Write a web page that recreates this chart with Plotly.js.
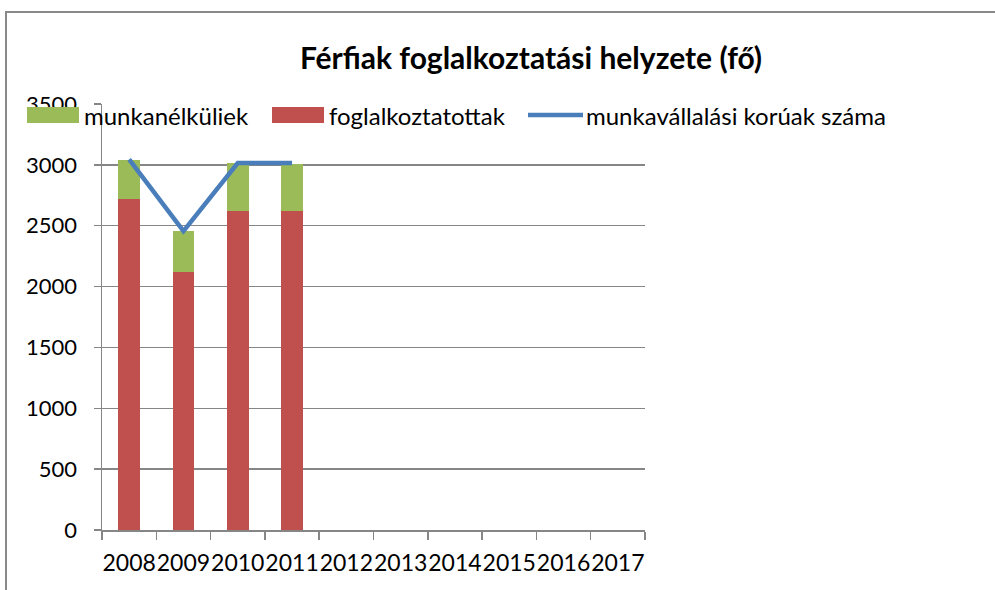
<!DOCTYPE html>
<html>
<head>
<meta charset="utf-8">
<script src="https://cdn.plot.ly/plotly-3.0.1.min.js"></script>
<style>
html,body{margin:0;padding:0;background:#fff;}
#chart{width:995px;height:590px;}
</style>
</head>
<body>
<div id="chart"></div>
<script>
var years = ['2008','2009','2010','2011','2012','2013','2014','2015','2016','2017'];
var foglalkoztatottak = [2720, 2120, 2620, 2625];
var munkanelkuliek = [320, 335, 395, 385];
var munkavallalasiKoruak = [3045, 2455, 3015, 3015];
var yTicks = [0, 500, 1000, 1500, 2000, 2500, 3000, 3500];

var FONT = 'Lato, "Open Sans", sans-serif';
var C_RED = '#c0504d', C_GREEN = '#9bbb59', C_BLUE = '#4a7ebb';

var traces = [
  {
    type: 'bar', name: 'foglalkoztatottak',
    x: years.slice(0, foglalkoztatottak.length), y: foglalkoztatottak,
    marker: {color: C_RED}, hoverinfo: 'y'
  },
  {
    type: 'bar', name: 'munkanélküliek',
    x: years.slice(0, munkanelkuliek.length), y: munkanelkuliek,
    marker: {color: C_GREEN}, hoverinfo: 'y'
  },
  {
    type: 'scatter', mode: 'lines', name: 'munkavállalási korúak száma',
    x: years.slice(0, munkavallalasiKoruak.length), y: munkavallalasiKoruak,
    line: {color: C_BLUE, width: 4.5}, hoverinfo: 'y'
  }
];

// pixel -> paper helpers (plot area: x 102..645, y 104..530)
var L = 102, R = 350, T = 104, B = 60, W = 995, H = 590;
var PW = W - L - R, PH = H - T - B;
function px(x) { return (x - L) / PW; }
function py(y) { return (H - B - y) / PH; }

var legY = 115;
var legendItems = [
  {name: traces[1].name, kind: 'rect', color: C_GREEN, x0: 27, x1: 79, tx: 83},
  {name: traces[0].name, kind: 'rect', color: C_RED, x0: 272, x1: 324, tx: 328},
  {name: traces[2].name, kind: 'line', color: C_BLUE, x0: 528, x1: 583, tx: 585}
];
var shapes = [{
  type: 'rect', xref: 'paper', yref: 'paper',
  x0: px(6), x1: px(1100), y0: py(700), y1: py(12),
  line: {color: '#898989', width: 2}, layer: 'below'
}];
var annotations = [];
legendItems.forEach(function (it) {
  if (it.kind === 'rect') {
    shapes.push({type: 'rect', xref: 'paper', yref: 'paper',
      x0: px(it.x0), x1: px(it.x1), y0: py(legY + 8), y1: py(legY - 8),
      fillcolor: it.color, line: {width: 0}});
  } else {
    shapes.push({type: 'line', xref: 'paper', yref: 'paper',
      x0: px(it.x0), x1: px(it.x1), y0: py(legY), y1: py(legY),
      line: {color: it.color, width: 4.5}});
  }
  annotations.push({xref: 'paper', yref: 'paper', x: px(it.tx), y: py(legY),
    xanchor: 'left', yanchor: 'middle', showarrow: false, text: it.name,
    font: {family: FONT, size: 24, color: '#000'}, borderpad: 0});
});

var layout = {
  width: W, height: H,
  margin: {l: L, r: R, t: T, b: B, pad: 0},
  paper_bgcolor: 'rgba(0,0,0,0)',
  plot_bgcolor: 'rgba(0,0,0,0)',
  font: {family: FONT, size: 22, color: '#000'},
  barmode: 'stack',
  bargap: 0.6,
  showlegend: false,
  title: {
    text: '<b>Férfiak foglalkoztatási helyzete (fő)</b>',
    font: {family: FONT, size: 30, color: '#000'},
    x: 531/995, xanchor: 'center', xref: 'container',
    y: 1 - 58/590, yanchor: 'middle', yref: 'container'
  },
  xaxis: {
    type: 'category',
    categoryorder: 'array', categoryarray: years,
    tickvals: years,
    range: [-0.5, 9.5],
    tickson: 'boundaries',
    tickangle: 0,
    ticks: 'outside', ticklen: 8, tickcolor: '#868686', tickwidth: 1.5,
    showline: true, linecolor: '#868686', linewidth: 1.5,
    showgrid: false, zeroline: false,
    tickfont: {family: FONT, size: 23},
    ticklabelstandoff: 12
  },
  yaxis: {
    range: [0, 3500],
    tickvals: yTicks,
    ticks: 'outside', ticklen: 7, tickcolor: '#868686', tickwidth: 1.5,
    showline: true, linecolor: '#868686', linewidth: 1.5,
    showgrid: true, gridcolor: '#868686', gridwidth: 1.5,
    zeroline: false,
    tickfont: {family: FONT, size: 22},
    ticklabelstandoff: 12
  },
  shapes: shapes,
  annotations: annotations
};

Plotly.newPlot('chart', traces, layout, {displayModeBar: false, staticPlot: true});
</script>
</body>
</html>
